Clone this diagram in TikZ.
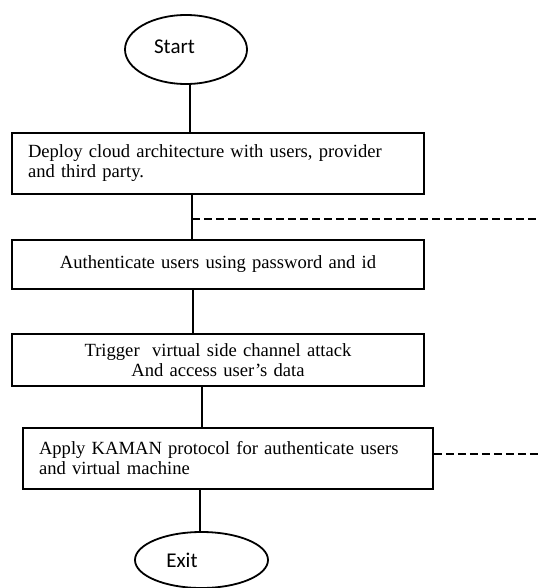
\documentclass[tikz,border=0pt]{standalone}
\usepackage{fontspec}
\setmainfont{Liberation Serif}
\newfontfamily\ovalfont{Carlito}
\usetikzlibrary{shapes.geometric, calc}
\tikzset{
  stepbox/.style  = {draw=black, line width=1.8pt, fill=white},
  endpoint/.style = {ellipse, draw=black, line width=1.8pt, fill=white},
}

\begin{document}
\begin{tikzpicture}[
    x=1pt, y=-1pt,
    every node/.style={font=\fontsize{18.6}{20}\selectfont},
    box/.style     ={stepbox, inner xsep=16pt, inner ysep=2pt, text width=380pt},
    oval/.style    ={endpoint, inner sep=0pt, font=\ovalfont\fontsize{21}{24}\selectfont},
    link/.style    ={line width=1.8pt, draw=black},
    leak/.style    ={line width=1.4pt, draw=black, dash pattern=on 8pt off 4pt}
  ]
  \useasboundingbox (0,0) rectangle (539,588);

  %% --- Terminals (labels sit left of centre, as in the original) -------
  \node[oval, minimum width=122pt, minimum height=69pt] (start) at (186,49.5)
      {\raisebox{6pt}{Start}\hspace*{23pt}};
  \node[oval, minimum width=133pt, minimum height=56pt] (exit) at (201.5,560)
      {Exit\hspace*{39pt}};

  %% --- Process steps ----------------------------------------------------
  \node[box, align=left, minimum height=61pt] (deploy) at (218,163.5)
      {Deploy cloud architecture with users, provider\\and third party.};
  \node[box, align=center, minimum height=49pt] (auth) at (218,264.5)
      {Authenticate users using password and id\hspace*{22pt}};
  \node[box, align=center, minimum height=52pt] (attack) at (218,360)
      {Trigger\ \ virtual side channel attack\hspace*{22pt}\\And access user’s data\hspace*{22pt}};
  \node[box, align=left, text width=378pt, minimum height=61pt] (kaman) at (228,458.5)
      {Apply KAMAN protocol for authenticate users\\and virtual machine};

  %% --- Vertical flow ----------------------------------------------------
  \foreach \a/\b/\x in {start/deploy/190, deploy/auth/192, auth/attack/193,
                        attack/kaman/202, kaman/exit/200}
      \draw[link] (\x,0 |- \a.south) -- (\x,0 |- \b.north);

  %% --- Dashed side branches (run off the right edge) --------------------
  \coordinate (rim) at (539,0);
  \coordinate (tap) at (192,219);
  \coordinate (kamantap) at ([yshift=4.5pt]kaman.east);
  \draw[leak] (tap) -- (tap -| rim);
  \draw[leak] (kamantap) -- (kamantap -| rim);
\end{tikzpicture}
\end{document}
